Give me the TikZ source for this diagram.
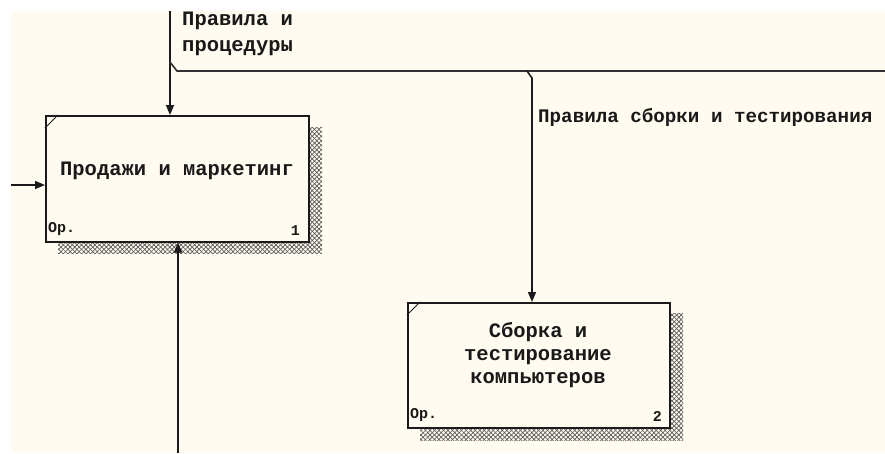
\documentclass[tikz,border=0pt]{standalone}
\usepackage{fontspec}
\setmainfont{Liberation Mono}
\usetikzlibrary{arrows.meta,patterns.meta}
\definecolor{cream}{HTML}{FFFBF0}
\definecolor{ink}{HTML}{1A1A1A}
\tikzset{
  actbox/.style={draw=ink, line width=1.6pt, fill=cream, anchor=north west, inner sep=0pt},
  shadowA/.style={pattern={Lines[angle=45,distance=3.2pt,line width=0.7pt]}, pattern color=black!65},
  shadowB/.style={pattern={Lines[angle=-45,distance=3.2pt,line width=0.7pt]}, pattern color=black!65},
  arr/.style={draw=ink, line width=1.6pt, -{Triangle[width=8pt,length=10pt]}},
  wire/.style={draw=ink!90, line width=1.6pt},
  txt/.style={font=\bfseries\fontsize{20.5}{23}\selectfont, inner sep=0pt, text=black!90},
  small/.style={font=\bfseries\fontsize{15}{16}\selectfont, inner sep=0pt, text=black!90},
  corner/.style={draw=ink, line width=1pt}
}
\begin{document}
\begin{tikzpicture}[x=1pt,y=-1pt]
\useasboundingbox (0,0) rectangle (885,453);
\fill[white] (0,0) rectangle (885,453);
\fill[cream] (11,11) rectangle (885,453);

% shadows
\fill[shadowA] (58,127) rectangle (322,253);
\fill[shadowB] (58,127) rectangle (322,253);
\fill[shadowA] (420,313) rectangle (683,440);
\fill[shadowB] (420,313) rectangle (683,440);

% boxes
\node[actbox, minimum width=263pt, minimum height=126pt] (b1) at (45,115) {};
\node[actbox, minimum width=262pt, minimum height=125pt] (b2) at (407,302) {};

\draw[corner] (45,128) -- (58,115);
\draw[corner] (407,315) -- (420,302);

% box texts
\node[txt] (t1) at (177,171) {Продажи и маркетинг};
\node[txt, align=center] (t2) at (538,355) {Сборка и\\тестирование\\компьютеров};
\node[small, anchor=south west] (o1) at (48,236) {Ор.};
\node[small, anchor=south east] (n1) at (300,236) {1};
\node[small, anchor=south west] (o2) at (410,422) {Ор.};
\node[small, anchor=south east] (n2) at (662,422) {2};

% connectors
\coordinate (ctop) at (170,11);
\coordinate (jb) at (170,71);
\coordinate (rend) at (885,71);
\coordinate (j2) at (532,71);
\coordinate (in1) at (11,185);
\coordinate (mech) at (178,453);

\draw[arr] (ctop) -- (ctop |- b1.north);
\draw[wire] (170,62) -- (177,71) -- (rend);
\draw[arr] (527,71) -- (532,78) -- (j2 |- b2.north);
\draw[arr] (in1) -- (in1 -| b1.west);
\draw[arr] (mech) -- (mech |- b1.south);

% labels
\node[txt, anchor=west, align=left] (l1) at (182,34) {Правила и\\[3pt]процедуры};
\node[txt, anchor=west, font=\bfseries\fontsize{19.2}{22}\selectfont] (l2) at (538,117) {Правила сборки и тестирования};
\end{tikzpicture}
\end{document}
